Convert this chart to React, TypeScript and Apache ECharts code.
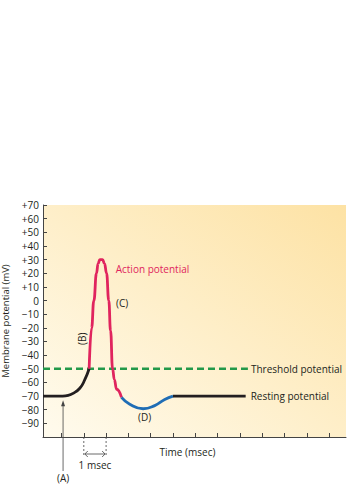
import React, { useEffect, useRef } from 'react';
import * as echarts from 'echarts';

const yTickValues = [-90, -80, -70, -60, -50, -40, -30, -20, -10, 0, 10, 20, 30, 40, 50, 60, 70];
const xTickValues = [0, 1, 2, 3, 4, 5, 6, 7, 8, 9, 10, 11, 12];

const restingStart: number[][] = [[-0.83, -70], [0.05, -70], [0.3, -69.5], [0.52, -68], [0.82, -64.3], [1.04, -58.2], [1.24, -50]];
const actionPotential: number[][] = [[1.24, -50], [1.35, -20], [1.45, 0], [1.57, 20], [1.64, 27], [1.72, 30], [1.84, 30], [1.93, 27], [2.02, 20], [2.12, 0], [2.2, -22], [2.29, -50], [2.37, -58], [2.47, -65], [2.69, -71]];
const afterHyper: number[][] = [[2.69, -71], [3.06, -76], [3.66, -79.3], [4.18, -77], [4.63, -72.5], [5.0, -70]];
const restingEnd: number[][] = [[5.0, -70], [8.26, -70]];
const threshold: number[][] = [[-0.83, -50], [8.36, -50]];

const FONT = '"Open Sans", "Noto Sans", sans-serif';
const TXT = '#231f20';
const RED = '#e0245e';
const BLUE = '#1f6db5';
const GREEN = '#22994a';

export default function App() {
  const ref = useRef<HTMLDivElement>(null);
  useEffect(() => {
    if (!ref.current) return;
    const chart = echarts.init(ref.current, undefined, { renderer: 'svg' });
    chart.setOption({
      animation: false,
      textStyle: { fontFamily: FONT },
      grid: {
        left: 43, right: 15, top: 205, bottom: 56, show: true, borderWidth: 0,
        outerBoundsMode: 'none', containLabel: false,
        backgroundColor: new echarts.graphic.LinearGradient(0, 1, 1, 0, [
          { offset: 0, color: '#fffbee' },
          { offset: 1, color: '#fde2a4' },
        ]),
      },
      xAxis: {
        type: 'value', min: -0.83, max: 12.76,
        splitLine: { show: false },
        axisLine: { onZero: false, lineStyle: { color: '#444', width: 1 } },
        axisTick: { inside: true, length: 4, customValues: xTickValues, lineStyle: { color: '#444' } },
        axisLabel: { show: false },
      },
      yAxis: {
        type: 'value', min: -100, max: 70, interval: 10,
        splitLine: { show: false },
        axisLine: { show: true, onZero: false, lineStyle: { color: '#444', width: 1 } },
        axisTick: { inside: true, length: 4, customValues: yTickValues, lineStyle: { color: '#444' } },
        axisLabel: {
          customValues: yTickValues,
          color: TXT, fontSize: 10, fontFamily: FONT, margin: 4,
          formatter: (v: number) => (v > 0 ? '+' + v : v < 0 ? '\u2212' + Math.abs(v) : '0'),
        },
        name: 'Membrane potential (mV)', nameLocation: 'middle', nameGap: 28,
        nameTextStyle: { color: TXT, fontSize: 9.5, fontFamily: FONT },
      },
      series: [
        {
          type: 'line', data: threshold, symbol: 'none', silent: true,
          lineStyle: { color: GREEN, width: 2.5, type: [7, 4] },
          endLabel: { show: true, formatter: 'Threshold potential', color: TXT, fontSize: 10, fontFamily: FONT, distance: 3 },
        },
        { type: 'line', data: restingStart, symbol: 'none', smooth: true, lineStyle: { color: TXT, width: 2.8 } },
        { type: 'line', data: actionPotential, symbol: 'none', smooth: true, smoothMonotone: 'x', lineStyle: { color: RED, width: 2.8 } },
        { type: 'line', data: afterHyper, symbol: 'none', smooth: true, lineStyle: { color: BLUE, width: 2.8 } },
        {
          type: 'line', data: restingEnd, symbol: 'none', lineStyle: { color: TXT, width: 2.8 },
          endLabel: { show: true, formatter: 'Resting potential', color: TXT, fontSize: 10, fontFamily: FONT, distance: 5 },
        },
      ],
    });

    const p = (x: number, y: number) => chart.convertToPixel({ gridIndex: 0 }, [x, y]) as number[];
    const axisY = p(0, -100)[1];
    const t1 = p(1, -100)[0];
    const t2 = p(2, -100)[0];
    const aX = p(0.07, -73);
    const txt = (pos: number[], text: string, extra: any = {}) => ({
      type: 'text', x: pos[0], y: pos[1], silent: true,
      style: { text, fill: TXT, fontSize: 10, fontFamily: FONT, align: 'center', verticalAlign: 'middle', ...extra.style },
      ...(extra.rotation !== undefined ? { rotation: extra.rotation } : {}),
    });
    const arrowY = axisY + 17;
    chart.setOption({
      graphic: [
        { type: 'line', silent: true, shape: { x1: t1, y1: axisY, x2: t1, y2: axisY + 20 }, style: { stroke: '#444', lineWidth: 0.8, lineDash: [2, 2] } },
        { type: 'line', silent: true, shape: { x1: t2, y1: axisY, x2: t2, y2: axisY + 20 }, style: { stroke: '#444', lineWidth: 0.8, lineDash: [2, 2] } },
        { type: 'line', silent: true, shape: { x1: t1 + 1, y1: arrowY, x2: t2 - 1, y2: arrowY }, style: { stroke: '#444', lineWidth: 0.8 } },
        { type: 'polyline', silent: true, shape: { points: [[t1 + 4, arrowY - 3], [t1 + 1, arrowY], [t1 + 4, arrowY + 3]] }, style: { stroke: '#444', lineWidth: 0.8, fill: 'none' } },
        { type: 'polyline', silent: true, shape: { points: [[t2 - 4, arrowY - 3], [t2 - 1, arrowY], [t2 - 4, arrowY + 3]] }, style: { stroke: '#444', lineWidth: 0.8, fill: 'none' } },
        txt([(t1 + t2) / 2, axisY + 28], '1 msec'),
        { type: 'line', silent: true, shape: { x1: aX[0], y1: aX[1] + 4, x2: aX[0], y2: axisY + 34 }, style: { stroke: '#444', lineWidth: 0.8 } },
        { type: 'polygon', silent: true, shape: { points: [[aX[0], aX[1]], [aX[0] - 2, aX[1] + 6], [aX[0] + 2, aX[1] + 6]] }, style: { fill: '#444' } },
        txt([aX[0], axisY + 41], '(A)'),
        txt(p(0.91, -28), '(B)', { rotation: Math.PI / 2 }),
        txt(p(2.72, -2), '(C)'),
        txt(p(3.73, -85.5), '(D)'),
        txt(p(2.43, 23.3), 'Action potential', { style: { fill: RED, align: 'left' } }),
        txt([187.5, axisY + 15], 'Time (msec)'),
      ],
    });
    return () => chart.dispose();
  }, []);
  return <div ref={ref} style={{ position: 'absolute', left: 0, top: 0, width: 361, height: 493 }} />;
}
